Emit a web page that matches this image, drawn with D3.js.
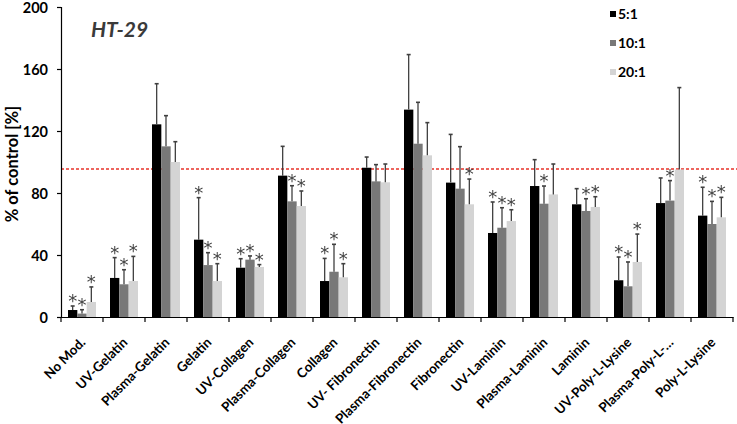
<!DOCTYPE html>
<html><head><meta charset="utf-8">
<script src="https://cdn.jsdelivr.net/npm/d3@7"></script>
<style>
body{margin:0;background:#fff;}
svg{display:block;font-family:Lato,"Open Sans",sans-serif;}
.stars{opacity:0.99;will-change:transform;}
</style></head>
<body><svg id="chart" width="737" height="424"></svg>
<script>
const categories = ["No Mod.","UV-Gelatin","Plasma-Gelatin","Gelatin","UV-Collagen","Plasma-Collagen","Collagen","UV- Fibronectin","Plasma-Fibronectin","Fibronectin","UV-Laminin","Plasma-Laminin","Laminin","UV-Poly-L-Lysine","Plasma-Poly-L-…","Poly-L-Lysine"];
const seriesNames = ["5:1","10:1","20:1"];
const mean5  = [4.5,25.2,124.3,49.9,31.8,91.2,23.2,96.3,133.8,86.7,54.2,84.5,72.7,23.7,73.5,65.4];
const err5   = [7.1,38.3,150.5,77.0,37.6,110.1,37.8,103.2,169.3,117.8,74.2,101.5,82.8,38.7,89.7,83.7];
const mean10 = [2.2,21.1,110.1,33.5,37.0,74.6,29.2,87.5,111.8,82.8,57.6,73.1,68.4,19.8,75.1,60.0];
const err10  = [4.7,30.5,129.9,41.5,39.4,84.7,46.9,98.3,138.5,109.9,70.5,84.5,76.3,35.5,88.0,74.6];
const mean20 = [9.7,23.2,100.0,23.2,32.3,71.6,25.6,86.9,104.3,72.7,61.9,79.1,71.0,35.5,95.1,64.3];
const err20  = [19.4,39.1,113.1,34.4,33.8,81.3,34.4,98.7,125.4,89.0,69.2,98.7,77.6,53.5,148.0,77.2];
const star5  = [1,1,0,1,1,0,1,0,0,0,1,0,0,1,0,1];
const star10 = [1,1,0,1,1,1,1,0,0,0,1,1,1,1,1,1];
const star20 = [1,1,0,1,1,1,1,0,0,1,1,0,1,1,0,1];
const yTicks = [0,40,80,120,160,200];
const referenceLine = 95.5;
const title = "HT-29";
const yLabel = "% of control [%]";

const colors = ["#000000","#787878","#d4d4d4"];
const means = [mean5,mean10,mean20], errs=[err5,err10,err20], stars=[star5,star10,star20];

const svg = d3.select("#chart");
const L=61, R=733, T=7, B=317;
const x0 = d3.scaleBand().domain(categories).range([L,R]).padding(0);
const x1 = d3.scaleBand().domain(seriesNames).range([7,35]).padding(0);
const y = d3.scaleLinear().domain([0,200]).range([B,T]);

// reference line
svg.append("line").attr("x1",L).attr("x2",737).attr("y1",y(referenceLine)).attr("y2",y(referenceLine))
  .attr("stroke","#e8332a").attr("stroke-width",1.3).attr("stroke-dasharray","3,2");

const data = [];
categories.forEach((c,i)=>seriesNames.forEach((s,j)=>data.push({c,s,j,v:means[j][i],e:errs[j][i],st:stars[j][i]})));

svg.append("g").selectAll("rect").data(data).join("rect")
  .attr("x",d=>x0(d.c)+x1(d.s)).attr("width",x1.bandwidth())
  .attr("y",d=>y(d.v)).attr("height",d=>y(0)-y(d.v)).attr("fill",d=>colors[d.j]);

const eg = svg.append("g").attr("stroke","#404040").attr("stroke-width",1.3);
data.forEach(d=>{
  const cx = x0(d.c)+x1(d.s)+x1.bandwidth()/2;
  eg.append("line").attr("x1",cx).attr("x2",cx).attr("y1",y(d.v)).attr("y2",y(d.e));
  eg.append("line").attr("x1",cx-2).attr("x2",cx+2).attr("y1",y(d.e)).attr("y2",y(d.e)).attr("stroke-width",1.6);
});

svg.append("g").attr("class","stars").selectAll("text").data(data.filter(d=>d.st)).join("text")
  .attr("x",d=>x0(d.c)+x1(d.s)+x1.bandwidth()/2).attr("y",d=>y(d.e)+1)
  .attr("text-anchor","middle").attr("font-size",18).attr("fill","#404040")
  .attr("font-family","'DejaVu Sans',sans-serif").text("*");

// y axis
const ya = svg.append("g").attr("transform",`translate(${L},0)`)
  .call(d3.axisLeft(y).tickValues(yTicks).tickSize(4).tickPadding(9));
ya.select(".domain").attr("stroke","#000").attr("stroke-width",1.2);
ya.selectAll(".tick line").attr("stroke","#000").attr("stroke-width",1.2);
ya.selectAll(".tick text").attr("font-size",14.5).attr("font-weight","bold").attr("font-family","Lato,sans-serif").attr("fill","#000").attr("dy","0.36em");

// x axis
const xa = svg.append("g").attr("transform",`translate(0,${B})`)
  .call(d3.axisBottom(x0).tickSize(0).tickFormat(""));
xa.select(".domain").attr("stroke","#000").attr("stroke-width",1.2);
xa.selectAll(".tick").remove();
xa.selectAll(".bt").data(d3.range(categories.length+1)).join("line")
  .attr("x1",i=>L+i*x0.bandwidth()).attr("x2",i=>L+i*x0.bandwidth())
  .attr("y1",0).attr("y2",5).attr("stroke","#000").attr("stroke-width",1.2);
svg.append("g").selectAll("text").data(categories).join("text")
  .attr("transform",c=>`translate(${x0(c)+x0.bandwidth()/2+1},${B+23}) rotate(-45)`)
  .attr("text-anchor","end").attr("dy","0.35em")
  .attr("font-size",13.3).attr("font-weight","bold").attr("fill","#000").text(c=>c);

// y label
svg.append("text").attr("transform","translate(18,164) rotate(-90)").attr("text-anchor","middle")
  .attr("font-size",16.5).attr("font-weight","bold").attr("fill","#000").text(yLabel);

// title
svg.append("text").attr("x",91).attr("y",37).attr("font-size",21).attr("font-weight","bold")
  .attr("font-style","italic").attr("fill","#3a3a3a").text(title);

// legend
const lg = svg.append("g").attr("transform","translate(610,0)");
seriesNames.forEach((s,j)=>{
  const g = lg.append("g").attr("transform",`translate(0,${j*29})`);
  g.append("rect").attr("width",6).attr("height",6).attr("y",11).attr("fill",colors[j]);
  g.append("text").attr("x",8).attr("y",19).attr("font-size",14).attr("font-weight","bold").attr("fill","#000").text(s);
});
</script></body></html>
